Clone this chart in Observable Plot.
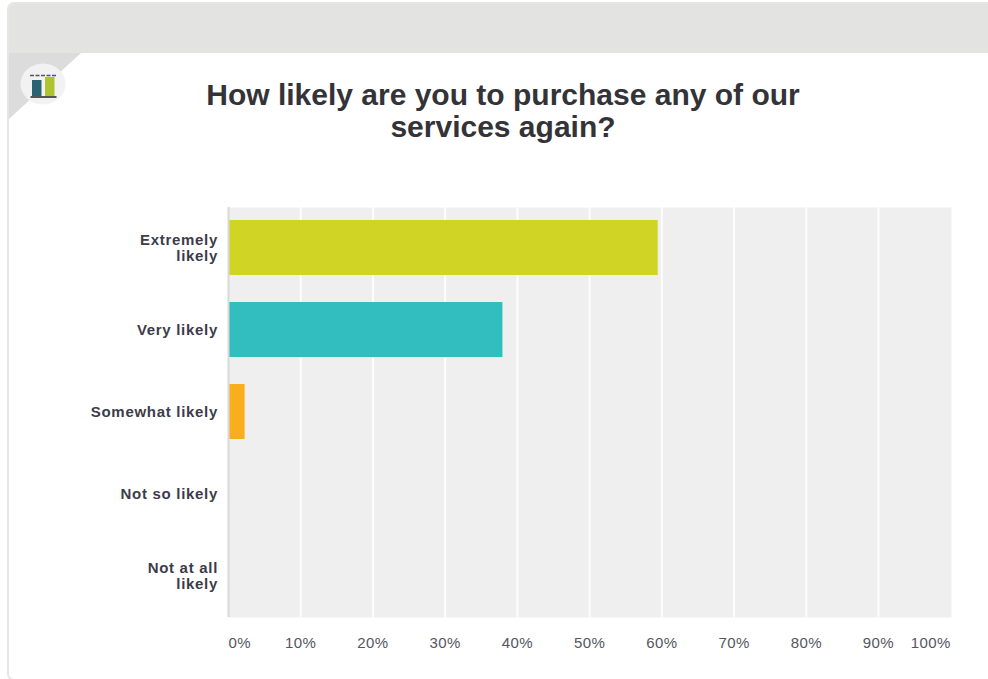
<!DOCTYPE html>
<html>
<head>
<meta charset="utf-8">
<script src="https://cdn.jsdelivr.net/npm/d3@7"></script>
<script src="https://cdn.jsdelivr.net/npm/@observablehq/plot@0.6"></script>
<style>
  html, body { margin: 0; padding: 0; background: #fff; overflow: hidden; }
  #page { position: relative; width: 988px; height: 679px; overflow: hidden; font-family: "Liberation Sans", Arial, sans-serif; }
  #card { position: absolute; left: 7px; top: 2px; width: 990px; height: 679px; box-sizing: border-box;
          border: 2px solid #e6e6e6; border-radius: 7px; background: #fff; overflow: hidden; }
  #band { position: absolute; left: 0; top: 0; right: 0; height: 49px; background: #e3e3e2; }
  #corner { position: absolute; left: 0; top: 49px; }
  #badge { position: absolute; left: 20px; top: 63px; }
  #title { position: absolute; left: 173px; top: 79px; width: 660px; margin: 0; text-align: center;
           font-size: 30px; line-height: 32px; font-weight: bold; color: #333338; }
  #chart { position: absolute; left: 0; top: 0; }
  #chart svg { display: block; background: transparent; }
  #chart g[aria-label="y-axis tick label"] { letter-spacing: 0.7px; }
  #chart g[aria-label="x-axis tick label"] { letter-spacing: 0.4px; }
</style>
</head>
<body>
<div id="page">
  <div id="card">
    <div id="band"></div>
    <svg id="corner" width="80" height="70"><path d="M0 0H72L0 66Z" fill="#dcdcdc"/></svg>
  </div>
  <svg id="badge" width="46" height="42" viewBox="0 0 46 42">
    <ellipse cx="23" cy="21" rx="22.5" ry="20.5" fill="#f2f2f2"/>
    <path d="M10 12.5H36" stroke="#555" stroke-width="1.6" stroke-dasharray="4 1.5"/>
    <rect x="12" y="17" width="9.5" height="16" fill="#2d6272"/>
    <rect x="25" y="14" width="9.5" height="19" fill="#aec32f"/>
    <rect x="10.5" y="33" width="26" height="2" fill="#555"/>
  </svg>
  <h1 id="title">How likely are you to purchase any of our<br>services again?</h1>
  <div id="chart"></div>
</div>
<script>
// Survey answers, share of respondents in percent.
const answers = ["Extremely\nlikely", "Very likely", "Somewhat likely", "Not so likely", "Not at all\nlikely"];
const shares = [59.5, 38, 2.3, 0, 0];
const barColors = ["#cfd425", "#32bdbf", "#f9ae1e", "#6b5ea8", "#e0629b"];
const innerTicks = [10, 20, 30, 40, 50, 60, 70, 80, 90];
const edgeTicks = [0, 100];

const rows = answers.map((answer, i) => ({answer, share: shares[i], color: barColors[i]}));
const pct = (d) => `${d}%`;
const xTickStyle = {tickSize: 0, tickPadding: 20, fontSize: 15, fill: "#55555f", tickFormat: pct, label: null};

const chart = Plot.plot({
  width: 988,
  height: 679,
  marginLeft: 228.5,
  marginRight: 37,
  marginTop: 207,
  marginBottom: 62,
  style: {background: "transparent", fontFamily: "'Liberation Sans', Arial, sans-serif", overflow: "visible"},
  x: {domain: [0, 100], range: [228, 950.2], label: null},
  y: {domain: answers, range: [206, 616], label: null, paddingInner: 0.33, paddingOuter: 0.165},
  marks: [
    Plot.frame({fill: "#efefef", stroke: null}),
    Plot.gridX(innerTicks, {stroke: "#ffffff", strokeOpacity: 0.85, strokeWidth: 2}),
    Plot.barX(rows, {x: "share", y: "answer", fill: "color"}),
    Plot.ruleX([0], {stroke: "#d9d9d9", strokeWidth: 2}),
    Plot.ruleY([0], {frameAnchor: "bottom", stroke: "#dddddd", strokeWidth: 2}),
    Plot.axisY({
      tickSize: 0,
      tickPadding: 11,
      fontSize: 15,
      fontWeight: "bold",
      fill: "#3c3c4a",
      lineHeight: 1.07,
      label: null
    }),
    Plot.axisX(innerTicks, xTickStyle),
    // The two end labels sit inside the plot's edges.
    Plot.axisX(edgeTicks.slice(0, 1), {...xTickStyle, textAnchor: "start"}),
    Plot.axisX(edgeTicks.slice(1), {...xTickStyle, textAnchor: "end"})
  ]
});
document.getElementById("chart").appendChild(chart);
</script>
</body>
</html>
